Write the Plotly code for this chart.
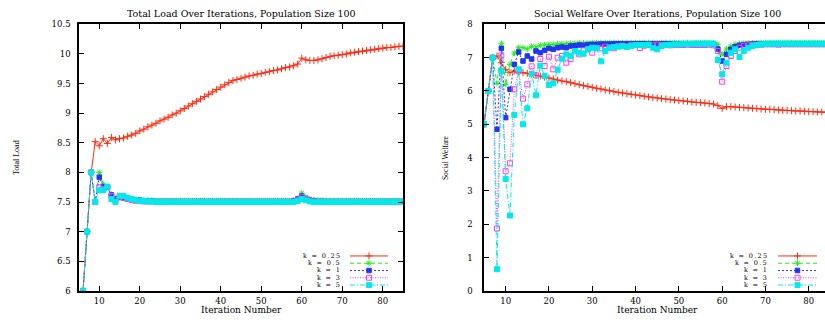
import plotly.graph_objects as go

W, H = 825, 322

iterations = list(range(5, 86))

series_names = ["k = 0.25", "k = 0.5", "k = 1", "k = 3", "k = 5"]

load_k025 = [5.0, 6.0, 7.0, 8.0, 8.52, 8.45, 8.57, 8.49, 8.59, 8.55,
             8.57, 8.58, 8.61, 8.63, 8.66, 8.70, 8.73, 8.77, 8.80, 8.83,
             8.87, 8.90, 8.93, 8.97, 9.00, 9.04, 9.08, 9.12, 9.16, 9.20,
             9.24, 9.28, 9.32, 9.36, 9.40, 9.44, 9.48, 9.52, 9.55, 9.57,
             9.59, 9.61, 9.63, 9.64, 9.66, 9.67, 9.69, 9.70, 9.72, 9.73,
             9.75, 9.77, 9.78, 9.80, 9.83, 9.93, 9.90, 9.89, 9.89, 9.90,
             9.92, 9.94, 9.96, 9.97, 9.98, 9.99, 10.00, 10.02, 10.03, 10.04,
             10.05, 10.06, 10.07, 10.08, 10.09, 10.10, 10.11, 10.11, 10.12, 10.13, 10.13]
load_k05 = [5.0, 6.0, 7.0, 8.0, 7.5, 8.0, 7.8, 7.75, 7.63, 7.56,
            7.59, 7.58, 7.56, 7.55, 7.54, 7.54, 7.53, 7.53, 7.53, 7.52,
            7.52, 7.52, 7.52, 7.52, 7.52, 7.52, 7.52, 7.52, 7.52, 7.52,
            7.52, 7.52, 7.52, 7.52, 7.52, 7.52, 7.52, 7.52, 7.52, 7.52,
            7.52, 7.52, 7.52, 7.52, 7.52, 7.52, 7.52, 7.52, 7.52, 7.52,
            7.52, 7.52, 7.52, 7.53, 7.56, 7.65, 7.58, 7.55, 7.54, 7.53,
            7.53, 7.52, 7.52, 7.52, 7.52, 7.52, 7.52, 7.52, 7.52, 7.52,
            7.52, 7.52, 7.52, 7.52, 7.52, 7.52, 7.52, 7.52, 7.52, 7.52, 7.52]
load_k1 = [5.0, 6.0, 7.0, 8.0, 7.5, 7.92, 7.76, 7.75, 7.62, 7.55,
           7.58, 7.57, 7.55, 7.54, 7.53, 7.53, 7.52, 7.52, 7.52, 7.51,
           7.51, 7.51, 7.51, 7.51, 7.51, 7.51, 7.51, 7.51, 7.51, 7.51,
           7.51, 7.51, 7.51, 7.51, 7.51, 7.51, 7.51, 7.51, 7.51, 7.51,
           7.51, 7.51, 7.51, 7.51, 7.51, 7.51, 7.51, 7.51, 7.51, 7.51,
           7.51, 7.51, 7.51, 7.52, 7.55, 7.60, 7.56, 7.53, 7.52, 7.51,
           7.51, 7.51, 7.51, 7.51, 7.51, 7.51, 7.51, 7.51, 7.51, 7.51,
           7.51, 7.51, 7.51, 7.51, 7.51, 7.51, 7.51, 7.51, 7.51, 7.51, 7.51]
load_k3 = [5.0, 6.0, 7.0, 8.0, 7.5, 7.75, 7.72, 7.75, 7.6, 7.53,
           7.58, 7.57, 7.55, 7.53, 7.52, 7.52, 7.51, 7.51, 7.51, 7.50,
           7.50, 7.50, 7.50, 7.50, 7.50, 7.50, 7.50, 7.50, 7.50, 7.50,
           7.50, 7.50, 7.50, 7.50, 7.50, 7.50, 7.50, 7.50, 7.50, 7.50,
           7.50, 7.50, 7.50, 7.50, 7.50, 7.50, 7.50, 7.50, 7.50, 7.50,
           7.50, 7.50, 7.50, 7.51, 7.53, 7.58, 7.55, 7.52, 7.51, 7.50,
           7.50, 7.50, 7.50, 7.50, 7.50, 7.50, 7.50, 7.50, 7.50, 7.50,
           7.50, 7.50, 7.50, 7.50, 7.50, 7.50, 7.50, 7.50, 7.50, 7.50, 7.50]
load_k5 = [5.0, 6.0, 7.0, 8.0, 7.5, 7.7, 7.7, 7.76, 7.55, 7.5,
           7.6, 7.6, 7.57, 7.55, 7.53, 7.52, 7.52, 7.51, 7.51, 7.50,
           7.50, 7.50, 7.50, 7.50, 7.50, 7.50, 7.50, 7.50, 7.50, 7.50,
           7.50, 7.50, 7.50, 7.50, 7.50, 7.50, 7.50, 7.50, 7.50, 7.50,
           7.50, 7.50, 7.50, 7.50, 7.50, 7.50, 7.50, 7.50, 7.50, 7.50,
           7.50, 7.50, 7.50, 7.50, 7.52, 7.55, 7.53, 7.51, 7.50, 7.50,
           7.50, 7.50, 7.50, 7.50, 7.50, 7.50, 7.50, 7.50, 7.50, 7.50,
           7.50, 7.50, 7.50, 7.50, 7.50, 7.50, 7.50, 7.50, 7.50, 7.50, 7.50]

sw_k025 = [5.0, 6.0, 7.0, 7.05, 6.86, 6.64, 6.55, 6.6, 6.56, 6.55,
           6.53, 6.50, 6.47, 6.45, 6.42, 6.39, 6.36, 6.33, 6.30, 6.28,
           6.25, 6.22, 6.19, 6.16, 6.14, 6.11, 6.08, 6.06, 6.03, 6.01,
           5.98, 5.96, 5.94, 5.92, 5.90, 5.88, 5.86, 5.84, 5.82, 5.80,
           5.79, 5.77, 5.76, 5.74, 5.73, 5.71, 5.70, 5.69, 5.67, 5.66,
           5.65, 5.64, 5.62, 5.61, 5.56, 5.48, 5.53, 5.53, 5.52, 5.51,
           5.50, 5.49, 5.48, 5.47, 5.46, 5.45, 5.45, 5.44, 5.43, 5.42,
           5.42, 5.41, 5.40, 5.40, 5.39, 5.38, 5.38, 5.37, 5.37, 5.36, 5.36]
sw_k05 = [5.0, 6.0, 7.0, 6.23, 7.42, 6.2, 6.8, 7.14, 7.3, 7.3,
          7.26, 7.34, 7.32, 7.37, 7.38, 7.40, 7.40, 7.41, 7.42, 7.42,
          7.43, 7.43, 7.44, 7.44, 7.44, 7.45, 7.45, 7.45, 7.45, 7.45,
          7.45, 7.45, 7.45, 7.45, 7.45, 7.45, 7.45, 7.45, 7.45, 7.45,
          7.45, 7.45, 7.45, 7.45, 7.45, 7.45, 7.45, 7.45, 7.45, 7.45,
          7.45, 7.45, 7.45, 7.44, 7.40, 7.10, 7.26, 7.35, 7.40, 7.42,
          7.43, 7.44, 7.44, 7.45, 7.45, 7.45, 7.45, 7.45, 7.45, 7.45,
          7.45, 7.45, 7.45, 7.45, 7.45, 7.45, 7.45, 7.45, 7.45, 7.45, 7.45]
sw_k1 = [5.0, 6.0, 7.0, 4.85, 7.28, 5.2, 6.05, 6.8, 7.17, 6.9,
         7.05, 6.96, 7.2, 7.15, 7.22, 7.28, 7.25, 7.3, 7.32, 7.3,
         7.35, 7.36, 7.38, 7.37, 7.39, 7.40, 7.40, 7.41, 7.41, 7.41,
         7.42, 7.42, 7.42, 7.42, 7.42, 7.42, 7.42, 7.42, 7.42, 7.42,
         7.42, 7.42, 7.42, 7.42, 7.42, 7.42, 7.42, 7.42, 7.42, 7.42,
         7.42, 7.42, 7.42, 7.40, 7.26, 6.90, 7.10, 7.25, 7.33, 7.37,
         7.39, 7.40, 7.41, 7.42, 7.42, 7.42, 7.42, 7.42, 7.42, 7.42,
         7.42, 7.42, 7.42, 7.42, 7.42, 7.42, 7.42, 7.42, 7.42, 7.42, 7.42]
sw_k3 = [5.0, 6.0, 7.0, 1.87, 7.07, 3.59, 3.83, 6.05, 6.6, 5.77,
         6.2, 6.74, 6.47, 6.96, 6.75, 7.03, 6.65, 7.0, 7.05, 6.85,
         6.96, 7.2, 7.1, 7.22, 7.25, 7.15, 7.3, 7.28, 7.33, 7.3,
         7.28, 7.35, 7.36, 7.34, 7.37, 7.38, 7.29, 7.36, 7.38, 7.37,
         7.39, 7.38, 7.38, 7.37, 7.38, 7.38, 7.38, 7.39, 7.38, 7.38,
         7.38, 7.38, 7.39, 7.37, 7.2, 6.28, 6.75, 7.05, 7.2, 7.3,
         7.35, 7.37, 7.38, 7.39, 7.39, 7.4, 7.4, 7.4, 7.39, 7.4,
         7.4, 7.4, 7.4, 7.4, 7.4, 7.4, 7.4, 7.4, 7.4, 7.4, 7.4]
sw_k5 = [5.0, 6.0, 7.0, 0.65, 6.6, 3.36, 2.26, 5.28, 6.65, 5.0,
         5.48, 6.52, 5.87, 6.76, 6.45, 6.18, 6.23, 6.64, 6.97, 7.1,
         7.05, 7.2, 7.15, 7.12, 7.25, 7.3, 7.28, 6.89, 7.2, 7.3,
         7.32, 7.33, 7.35, 7.32, 7.36, 7.37, 7.38, 7.38, 7.39, 7.3,
         7.25, 7.35, 7.38, 7.39, 7.4, 7.4, 7.41, 7.41, 7.41, 7.42,
         7.42, 7.42, 7.42, 7.42, 6.93, 6.5, 6.85, 7.15, 7.25, 7.02,
         7.2, 7.3, 7.35, 7.38, 7.4, 7.41, 7.42, 7.42, 7.42, 7.42,
         7.42, 7.42, 7.42, 7.42, 7.42, 7.42, 7.42, 7.42, 7.42, 7.42, 7.42]

load_series = [load_k025, load_k05, load_k1, load_k3, load_k5]
sw_series = [sw_k025, sw_k05, sw_k1, sw_k3, sw_k5]

colors = ["#ff2a10", "#22ee22", "#2236f0", "#f040f0", "#00eaea"]
dashes = ["solid", "4px,3px", "2px,2px", "1px,1.5px", "5px,2px,1px,2px"]
symbols = ["cross-thin-open", "asterisk-open", "square", "square-open", "square"]
msizes = [5, 5, 4.5, 5, 5]

FONT = "DejaVu Serif"

def px_x(p):
    return p / W

def px_y(p):
    return 1 - p / H

fig = go.Figure()

def marker(i):
    return dict(symbol=symbols[i], size=msizes[i], color=colors[i],
                line=dict(color=colors[i], width=1))

for i in range(len(series_names)):
    fig.add_trace(go.Scatter(x=iterations, y=load_series[i], mode="lines+markers",
                             line=dict(color=colors[i], width=1, dash=dashes[i]),
                             marker=marker(i), xaxis="x", yaxis="y", showlegend=False))
for i in range(len(series_names)):
    fig.add_trace(go.Scatter(x=iterations, y=sw_series[i], mode="lines+markers",
                             line=dict(color=colors[i], width=1, dash=dashes[i]),
                             marker=marker(i), xaxis="x2", yaxis="y2", showlegend=False))

# compact gnuplot-style keys (drawn on a hidden pixel-coordinate overlay)
row_y = [259, 266.5, 274, 281.5, 289]
keys = [dict(text_right=343, x0=350, x1=388), dict(text_right=770, x0=778, x1=817)]
annotations = []
for k in keys:
    for i, name in enumerate(series_names):
        xm = (k["x0"] + k["x1"]) / 2
        fig.add_trace(go.Scatter(x=[k["x0"], k["x1"]], y=[row_y[i], row_y[i]], mode="lines",
                                 line=dict(color=colors[i], width=1, dash=dashes[i]),
                                 xaxis="x3", yaxis="y3", showlegend=False, hoverinfo="skip"))
        fig.add_trace(go.Scatter(x=[xm], y=[row_y[i]], mode="markers", marker=marker(i),
                                 xaxis="x3", yaxis="y3", showlegend=False, hoverinfo="skip"))
        annotations.append(dict(text='<span style="letter-spacing:1.3px">' + name + '</span>',
                                x=px_x(k["text_right"]), y=px_y(row_y[i]),
                                xref="paper", yref="paper", xanchor="right", yanchor="middle",
                                showarrow=False, font=dict(family=FONT, size=6.5, color="black")))

titles = [
    ("Total Load Over Iterations, Population Size 100", 241.5, 9, 0, FONT, 9.5, "middle"),
    ("Social Welfare Over Iterations, Population Size 100", 657.5, 9, 0, FONT, 9.5, "middle"),
    ("Iteration Number", 241, 322, 0, FONT, 9, "bottom"),
    ("Iteration Number", 657, 322, 0, FONT, 9, "bottom"),
    ("Total Load", 16, 158, -90, "Liberation Serif", 8, "middle"),
    ("Social Welfare", 445, 158, -90, "Liberation Serif", 7.5, "middle"),
]
for t, x, y, ang, fam, sz, ya in titles:
    annotations.append(dict(text=t, x=px_x(x), y=px_y(y), xref="paper", yref="paper",
                            xanchor="center", yanchor=ya, showarrow=False, textangle=ang,
                            font=dict(family=fam, size=sz, color="black")))

axis_common = dict(showgrid=False, zeroline=False, showline=True, linecolor="black", linewidth=1.5,
                   ticks="inside", ticklen=5, tickwidth=1, tickcolor="black",
                   tickfont=dict(family=FONT, size=8.5, color="black"))

fig.update_layout(
    width=W, height=H,
    margin=dict(l=0, r=0, t=0, b=0),
    paper_bgcolor="white", plot_bgcolor="rgba(0,0,0,0)",
    xaxis=dict(domain=[px_x(79), px_x(403)], range=[5, 85], dtick=10, tick0=0,
               mirror="ticks", anchor="y", ticklabelstandoff=1, **axis_common),
    yaxis=dict(domain=[px_y(295), px_y(20)], range=[6, 10.5], dtick=0.5, tick0=0,
               mirror="ticks", anchor="x", ticklabelstandoff=5, **axis_common),
    xaxis2=dict(domain=[px_x(484), 1.0], range=[5, 5 + (825 - 484) / 4.33], dtick=10, tick0=0,
                mirror="ticks", anchor="y2", ticklabelstandoff=1, **axis_common),
    yaxis2=dict(domain=[px_y(295), px_y(20)], range=[0, 8], dtick=1, tick0=0,
                mirror=False, anchor="x2", ticklabelstandoff=8, **axis_common),
    xaxis3=dict(domain=[0, 1], range=[0, W], visible=False, anchor="y3"),
    yaxis3=dict(domain=[0, 1], range=[H, 0], visible=False, anchor="x3"),
    annotations=annotations,
    showlegend=False,
)

fig.write_html("out.html")
